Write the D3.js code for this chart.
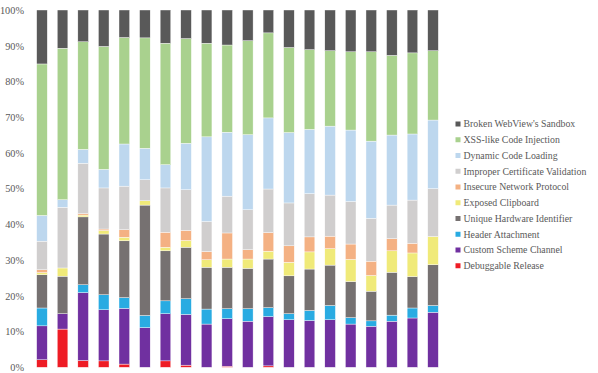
<!DOCTYPE html>
<html>
<head>
<meta charset="utf-8">
<script src="https://cdn.jsdelivr.net/npm/d3@7/dist/d3.min.js"></script>
<style>
  html, body { margin: 0; padding: 0; background: #fff; }
  svg { display: block; }
  text { font-family: "Liberation Serif", "Times New Roman", serif; fill: #595959; }
</style>
</head>
<body>
<svg id="chart" width="598" height="373"></svg>
<script>
// ---- Data (percent shares, bottom to top) ----
const categories = ["1","2","3","4","5","6","7","8","9","10","11","12","13","14","15","16","17","18","19","20"];
const seriesNames = [
  "Debuggable Release",
  "Custom Scheme Channel",
  "Header Attachment",
  "Unique Hardware Identifier",
  "Exposed Clipboard",
  "Insecure Network Protocol",
  "Improper Certificate Validation",
  "Dynamic Code Loading",
  "XSS-like Code Injection",
  "Broken WebView's Sandbox"
];
const debuggableRelease      = [2.1, 10.7, 1.9, 1.8, 0.9, 0, 1.8, 0.6, 0, 0.3, 0, 0.4, 0, 0, 0, 0, 0, 0, 0, 0];
const customSchemeChannel    = [9.5, 4.3, 19.0, 14.3, 15.6, 11.1, 13.2, 14.2, 12.1, 13.3, 12.9, 13.8, 13.3, 13.1, 13.3, 12.1, 11.5, 12.9, 13.8, 15.4];
const headerAttachment       = [5.0, 0, 2.2, 4.2, 3.0, 3.4, 3.6, 4.4, 4.2, 2.8, 3.5, 2.5, 1.7, 2.8, 4.0, 1.8, 1.5, 1.7, 2.8, 1.9];
const uniqueHardwareId       = [9.3, 10.5, 19.0, 17.0, 15.9, 30.9, 14.0, 14.4, 11.7, 11.6, 11.3, 13.6, 10.6, 11.6, 11.3, 10.1, 8.3, 12.0, 8.8, 11.4];
const exposedClipboard       = [0.6, 2.3, 0.5, 1.0, 1.0, 1.2, 1.0, 1.9, 2.1, 2.3, 2.6, 2.2, 3.8, 4.8, 4.6, 6.2, 4.4, 6.0, 6.6, 7.9];
const insecureNetwork        = [0.8, 0, 0.4, 0.4, 2.1, 0, 4.2, 2.8, 2.3, 7.3, 2.6, 5.2, 4.6, 4.2, 3.5, 4.3, 4.0, 3.4, 2.7, 0];
const improperCertificate    = [8.0, 17.0, 14.1, 11.5, 12.2, 5.9, 12.4, 11.4, 8.4, 10.3, 11.2, 12.2, 12.0, 12.1, 11.5, 11.9, 12.0, 9.4, 12.1, 13.4];
const dynamicCodeLoading     = [7.2, 2.1, 3.9, 5.2, 11.8, 8.8, 6.5, 13.0, 23.7, 17.9, 21.0, 19.9, 19.7, 18.0, 19.3, 20.0, 21.6, 19.6, 18.5, 19.2];
const xssCodeInjection       = [42.4, 42.4, 30.1, 34.4, 29.8, 30.9, 34.0, 29.3, 26.2, 24.4, 26.3, 23.8, 23.8, 22.3, 21.1, 21.9, 25.0, 22.3, 22.7, 19.4];
const brokenWebViewSandbox   = [15.1, 10.7, 8.9, 10.2, 7.7, 7.8, 9.3, 8.0, 9.3, 9.8, 8.6, 6.4, 10.5, 11.1, 11.4, 11.7, 11.7, 12.7, 12.0, 11.4];
const yTicks = [0, 0.1, 0.2, 0.3, 0.4, 0.5, 0.6, 0.7, 0.8, 0.9, 1.0];

const seriesValues = [debuggableRelease, customSchemeChannel, headerAttachment, uniqueHardwareId,
  exposedClipboard, insecureNetwork, improperCertificate, dynamicCodeLoading, xssCodeInjection, brokenWebViewSandbox];
const colors = ["#ee1c25", "#7030a0", "#29abe2", "#767171", "#f0ea79", "#f4b183", "#d0cece", "#bdd7ee", "#a9d18e", "#595959"];

// ---- Build table ----
const rows = categories.map((c, i) => {
  const r = { category: c };
  let total = 0;
  seriesNames.forEach((s, j) => { total += seriesValues[j][i]; });
  seriesNames.forEach((s, j) => { r[s] = seriesValues[j][i] / total; });
  return r;
});

const svg = d3.select("#chart");
const x = d3.scaleBand().domain(categories).range([26.7, 448.3]).padding(0.485);
const y = d3.scaleLinear().domain([0, 1]).range([367.3, 10]);
const color = d3.scaleOrdinal().domain(seriesNames).range(colors);

const stacked = d3.stack().keys(seriesNames)(rows);

svg.append("g")
  .selectAll("g")
  .data(stacked)
  .join("g")
  .attr("fill", d => color(d.key))
  .selectAll("rect")
  .data(d => d)
  .join("rect")
  .attr("x", d => x(d.data.category))
  .attr("width", x.bandwidth())
  .attr("y", d => y(d[1]))
  .attr("height", d => Math.max(0, y(d[0]) - y(d[1])))
  .attr("stroke", "#ffffff")
  .attr("stroke-width", 0.4);

// Y axis (labels only)
const yAxis = d3.axisLeft(y).tickValues(yTicks).tickFormat(d3.format(".0%")).tickSize(0).tickPadding(0);
const ya = svg.append("g").attr("transform", "translate(24,0)").call(yAxis);
ya.select(".domain").remove();
ya.selectAll("text")
  .attr("font-family", "Liberation Serif, Times New Roman, serif")
  .attr("font-size", "10.3px")
  .attr("fill", "#595959");

// Legend
const legendNames = seriesNames.slice().reverse();
const lg = svg.append("g").attr("transform", "translate(455.5,124)");
const item = lg.selectAll("g").data(legendNames).join("g")
  .attr("transform", (d, i) => `translate(0,${i * 15.75})`);
item.append("rect").attr("x", 0).attr("y", -2.5).attr("width", 5).attr("height", 5)
  .attr("fill", d => color(d));
item.append("text").attr("x", 8).attr("y", 0).attr("dy", "0.35em")
  .attr("font-size", "9.8px")
  .text(d => d);
</script>
</body>
</html>
